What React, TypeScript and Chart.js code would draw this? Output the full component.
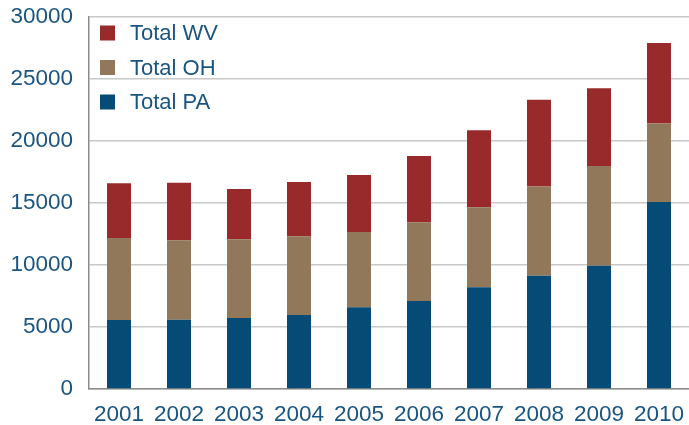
import React, { useEffect, useRef } from "react";
import { Chart, registerables } from "chart.js";

Chart.register(...registerables);

const years = ["2001", "2002", "2003", "2004", "2005", "2006", "2007", "2008", "2009", "2010"];
const totalPA = [5570, 5580, 5730, 5970, 6590, 7100, 8200, 9140, 9940, 15080];
const totalOH = [6610, 6410, 6340, 6340, 6070, 6350, 6460, 7200, 8040, 6340];
const totalWV = [4410, 4650, 4060, 4380, 4600, 5340, 6200, 6990, 6270, 6480];
const yTicks = [0, 5000, 10000, 15000, 20000, 25000, 30000];

const TEXT = "#1a5580";
const FONT = "'Liberation Sans', Arial, sans-serif";

const insideLegend = {
  id: "insideLegend",
  afterDraw(chart: any) {
    const ctx = chart.ctx;
    const area = chart.chartArea;
    const ds = [...chart.data.datasets].reverse();
    ctx.save();
    ctx.font = `22px ${FONT}`;
    ctx.textBaseline = "middle";
    ctx.textAlign = "left";
    ds.forEach((d: any, i: number) => {
      const cy = area.top + 16 + i * 34.5;
      ctx.fillStyle = d.backgroundColor;
      ctx.fillRect(area.left + 11, cy - 7.5, 15, 15);
      ctx.fillStyle = TEXT;
      ctx.fillText(d.label, area.left + 41, cy + 1);
    });
    ctx.restore();
  },
};

export default function App() {
  const ref = useRef<HTMLCanvasElement>(null);
  useEffect(() => {
    document.body.style.margin = "0";
    const chart = new Chart(ref.current!, {
      type: "bar",
      data: {
        labels: years,
        datasets: [
          { label: "Total PA", data: totalPA, backgroundColor: "#064b75" },
          { label: "Total OH", data: totalOH, backgroundColor: "#92785b" },
          { label: "Total WV", data: totalWV, backgroundColor: "#982a2b" },
        ],
      },
      options: {
        responsive: false,
        animation: false,
        layout: { padding: { top: 17, right: 0, left: 0, bottom: 0 } },
        datasets: { bar: { categoryPercentage: 0.8, barPercentage: 0.5 } },
        plugins: { legend: { display: false }, tooltip: { enabled: false } },
        scales: {
          x: {
            stacked: true,
            grid: { display: false },
            border: { display: true, color: "#8c8c8c", width: 1.5 },
            ticks: { color: TEXT, font: { family: FONT, size: 22.5 }, padding: 4, maxRotation: 0 },
            afterFit: (s: any) => { s.height = 36; s.paddingLeft = 0; s.paddingRight = 0; },
          },
          y: {
            stacked: true,
            min: 0,
            max: 30000,
            afterBuildTicks: (s: any) => { s.ticks = yTicks.map((v) => ({ value: v })); },
            grid: { color: "#c8c8c8", lineWidth: 1.5, drawTicks: false },
            border: { display: true, color: "#8c8c8c", width: 1.5 },
            ticks: {
              color: TEXT,
              font: { family: FONT, size: 22.5 },
              padding: 16,
              callback: (v: any) => String(v),
            },
            afterFit: (s: any) => { s.width = 89; s.paddingTop = 0; s.paddingBottom = 0; },
          },
        },
      },
      plugins: [insideLegend],
    });
    return () => chart.destroy();
  }, []);
  return (
    <div style={{ width: 689, height: 425 }}>
      <canvas ref={ref} width={689} height={425} />
    </div>
  );
}
